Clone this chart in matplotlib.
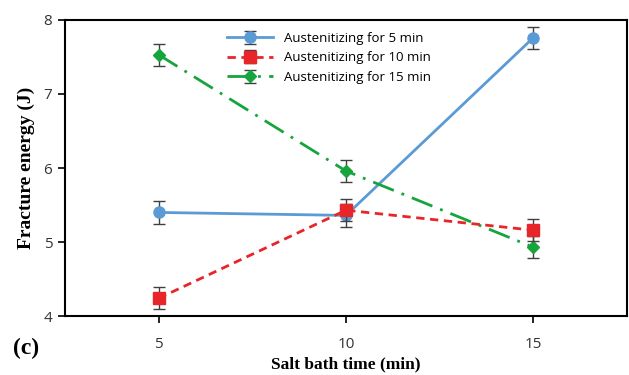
import numpy as np
import matplotlib
matplotlib.use("Agg")
import matplotlib.pyplot as plt

salt_time = [5, 10, 15]
aus_5 = [5.40, 5.36, 7.76]
aus_10 = [4.24, 5.43, 5.16]
aus_15 = [7.53, 5.96, 4.93]
err_5 = [0.15, 0.15, 0.15]
err_10 = [0.15, 0.15, 0.15]
err_15 = [0.15, 0.15, 0.15]
labels = ["Austenitizing for 5 min", "Austenitizing for 10 min", "Austenitizing for 15 min"]

fig = plt.figure(figsize=(6.29, 3.75), dpi=100)
ax = fig.add_axes([0.103, 0.157, 0.894, 0.79])

ax.errorbar(salt_time, aus_5, yerr=err_5, color="#5B9BD5", lw=2, marker="o", ms=8,
            ecolor="#404040", elinewidth=1, capsize=4, label=labels[0], zorder=3)
ax.errorbar(salt_time, aus_10, yerr=err_10, color="#E8262A", lw=2, ls=(0, (3, 2)), marker="s", ms=8,
            ecolor="#404040", elinewidth=1, capsize=4, label=labels[1], zorder=4)
ax.errorbar(salt_time, aus_15, yerr=err_15, color="#16A53C", lw=2, ls=(0, (8, 3, 1, 3)), marker="D", ms=6,
            ecolor="#404040", elinewidth=1, capsize=4, label=labels[2], zorder=3)

ax.set_xlim(2.5, 17.5)
ax.set_ylim(4, 8)
ax.set_xticks([5, 10, 15])
ax.set_yticks([4, 5, 6, 7, 8])
for s in ax.spines.values():
    s.set_linewidth(1.5)
ax.tick_params(axis="both", direction="out", length=5, width=1.2, labelsize=11)
ax.tick_params(axis="x", pad=10)
ax.tick_params(axis="y", pad=4)
for t in ax.get_xticklabels() + ax.get_yticklabels():
    t.set_fontfamily("Open Sans")
    t.set_color("#333333")

ax.set_xlabel("Salt bath time (min)", fontfamily="Liberation Serif", fontweight="bold", fontsize=12.5, labelpad=3)
ax.set_ylabel("Fracture energy (J)", fontfamily="Liberation Serif", fontweight="bold", fontsize=14, labelpad=6)
fig.text(0.02, 0.055, "(c)", fontfamily="Liberation Serif", fontweight="bold", fontsize=17)

leg = ax.legend(loc="upper center", bbox_to_anchor=(0.47, 1.0), frameon=False,
                prop={"family": "Open Sans", "size": 9.5}, handlelength=3.5, labelspacing=0.5)

fig.savefig("out.png", dpi=100)
